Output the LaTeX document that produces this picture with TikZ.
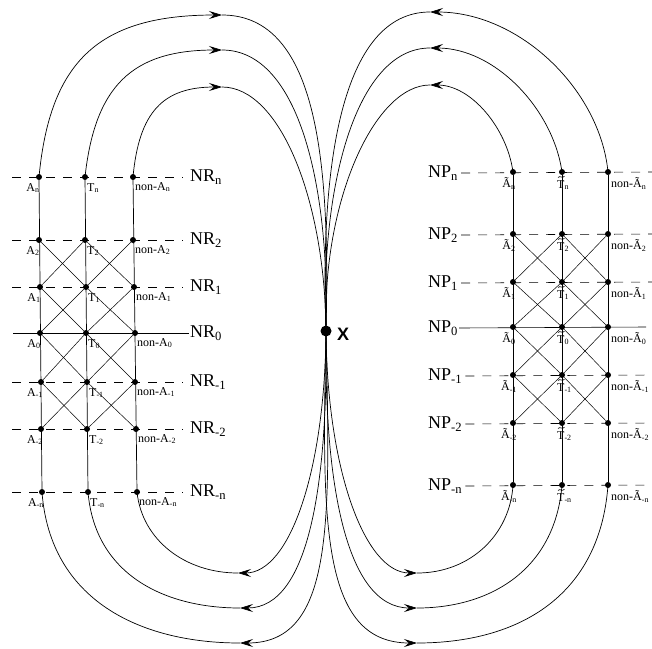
\documentclass[tikz,border=0pt]{standalone}
\usepackage{fontspec}
\setmainfont{Liberation Serif}
\setsansfont{Liberation Sans}
\usetikzlibrary{arrows.meta}
\begin{document}
\begin{tikzpicture}[x=1pt,y=-1pt,
  dot/.style={circle,fill=black,inner sep=0pt,minimum size=6pt},
  lbl/.style={inner sep=0pt,font=\fontsize{12}{12}\selectfont},
  rowlbl/.style={inner sep=0pt,font=\fontsize{18}{18}\selectfont},
  rowline/.style={line width=0.6pt,dash pattern=on 9pt off 8pt},
  zeroline/.style={line width=0.6pt},
  colline/.style={line width=0.7pt},
  diag/.style={line width=0.5pt},
  arcline/.style={line width=0.7pt},
  accent/.style={line width=0.6pt},
  tip/.style={-{Stealth[length=13pt,width=8pt,inset=5pt]}},
]
\fill[white] (0,0) rectangle (652,648);
\useasboundingbox (0,0) rectangle (652,648);

% ---------- left lattice ----------
\foreach \k/\y/\xa/\xt/\xn/\s in {n/177/39/85/133/n, 2/240/39/85/133/2, 1/287/40/86/134/1, 0/333/40/86/135/0, m1/382/41/87/135/-1, m2/429/41/87/136/-2, mn/492/42/88/137/-n}{
  \node[dot] (LA\k) at (\xa,\y) {};
  \node[dot] (LT\k) at (\xt,\y) {};
  \node[dot] (LN\k) at (\xn,\y) {};
  \node[rowlbl,anchor=west] (NR\k) at (190,\y) {NR\textsubscript{\s}};
  \node[lbl,anchor=north] (lA\k) at ({\xa-6},{\y+6}) {A\textsubscript{\s}};
  \node[lbl,anchor=north west] (lT\k) at ({\xt+2},{\y+6}) {T\textsubscript{\s}};
  \node[lbl,anchor=north west] (lN\k) at ({\xn+2},{\y+5}) {non-A\textsubscript{\s}};
}
\foreach \k/\y in {n/177, 2/240, 1/287, m1/382, m2/429, mn/492}{
  \draw[rowline] (12,\y) -- ([xshift=-7pt]NR\k.west);
}
\draw[zeroline] (13,333) -- ([xshift=-1pt]NR0.west);
\draw[colline] (LAn) -- (LAmn);
\draw[colline] (LTn) -- (LTmn);
\draw[colline] (LNn) -- (LNmn);
\foreach \u/\v in {2/1, 1/0, 0/m1, m1/m2}{
  \draw[diag] (LA\u) -- (LT\v);
  \draw[diag] (LT\u) -- (LA\v);
  \draw[diag] (LT\u) -- (LN\v);
  \draw[diag] (LN\u) -- (LT\v);
}

% ---------- right lattice ----------
\foreach \k/\y/\s in {n/172/n, 2/234/2, 1/282/1, 0/327/0, m1/375/-1, m2/423/-2, mn/485/-n}{
  \node[dot] (RA\k) at (513,\y) {};
  \node[dot] (RT\k) at (562,\y) {};
  \node[dot] (RN\k) at (608,\y) {};
  \node[rowlbl,anchor=west] (NP\k) at (428,{\y+1}) {NP\textsubscript{\s}};
  \node[lbl,anchor=north] (rA\k) at (509,{\y+5}) {Ã\textsubscript{\s}};
  \node[lbl,anchor=north west] (rT\k) at (557,{\y+8}) {T\textsubscript{\s}};
  \draw[accent] (558,{\y+5.5}) .. controls (559.8,{\y+3}) and (562.2,{\y+7}) .. (564.5,{\y+4.2});
  \node[lbl,anchor=north west] (rN\k) at (611,{\y+5}) {non-Ã\textsubscript{\s}};
}
\foreach \k/\y in {n/172, 2/234, 1/282, m1/375, m2/423, mn/485}{
  \draw[rowline] ([xshift=3pt]NP\k.east) -- (652,\y);
}
\draw[zeroline] ([xshift=1pt]NP0.east) -- (646,327);
\draw[colline] (RAn) -- (RAmn);
\draw[colline] (RTn) -- (RTmn);
\draw[colline] (RNn) -- (RNmn);
\foreach \u/\v in {2/1, 1/0, 0/m1, m1/m2}{
  \draw[diag] (RA\u) -- (RT\v);
  \draw[diag] (RT\u) -- (RA\v);
  \draw[diag] (RT\u) -- (RN\v);
  \draw[diag] (RN\u) -- (RT\v);
}

% ---------- centre ----------
\node[circle,fill=black,inner sep=0pt,minimum size=11pt] (X) at (326,331) {};
\node[inner sep=0pt,anchor=west,font=\sffamily\bfseries\fontsize{18}{18}\selectfont] (Xl) at (337,334) {X};

\coordinate (tL1) at (222,15);
\coordinate (tL2) at (222,50);
\coordinate (tL3) at (222,87);
\coordinate (tR1) at (430,12);
\coordinate (tR2) at (430,48);
\coordinate (tR3) at (430,85);
\coordinate (bL1) at (240,643);
\coordinate (bL2) at (240,608);
\coordinate (bL3) at (238,573);
\coordinate (bR1) at (417,643);
\coordinate (bR2) at (417,608);
\coordinate (bR3) at (417,573);

% top left
\draw[arcline,tip] (LAn.center) .. controls (50,61) and (99,15) .. (tL1);
\draw[arcline] (tL1) .. controls (320,15) and (330,170) .. (X.center);
\draw[arcline,tip] (LTn.center) .. controls (95,86) and (132,50) .. (tL2);
\draw[arcline] (tL2) .. controls (300,50) and (330,190) .. (X.center);
\draw[arcline,tip] (LNn.center) .. controls (139,112) and (163,87) .. (tL3);
\draw[arcline] (tL3) .. controls (280,87) and (325,200) .. (X.center);
% top right
\draw[arcline,tip] (RNn.center) .. controls (600,90) and (520,12) .. (tR1);
\draw[arcline] (tR1) .. controls (340,12) and (320,170) .. (X.center);
\draw[arcline,tip] (RTn.center) .. controls (553,109) and (495,48) .. (tR2);
\draw[arcline] (tR2) .. controls (355,48) and (320,190) .. (X.center);
\draw[arcline,tip] (RAn.center) .. controls (507,128) and (471,85) .. (tR3);
\draw[arcline] (tR3) .. controls (375,85) and (322,200) .. (X.center);
% bottom left
\draw[arcline,tip] (X.center) .. controls (330,520) and (335,643) .. (bL1);
\draw[arcline] (bL1) .. controls (140,643) and (50,600) .. (LAmn.center);
\draw[arcline,tip] (X.center) .. controls (328,480) and (310,608) .. (bL2);
\draw[arcline] (bL2) .. controls (165,608) and (95,575) .. (LTmn.center);
\draw[arcline,tip] (X.center) .. controls (325,470) and (290,573) .. (bL3);
\draw[arcline] (bL3) .. controls (185,573) and (142,540) .. (LNmn.center);
% bottom right
\draw[arcline,tip] (X.center) .. controls (322,520) and (320,643) .. (bR1);
\draw[arcline] (bR1) .. controls (520,643) and (600,595) .. (RNmn.center);
\draw[arcline,tip] (X.center) .. controls (324,480) and (345,608) .. (bR2);
\draw[arcline] (bR2) .. controls (490,608) and (555,570) .. (RTmn.center);
\draw[arcline,tip] (X.center) .. controls (327,470) and (365,573) .. (bR3);
\draw[arcline] (bR3) .. controls (470,573) and (510,535) .. (RAmn.center);
\end{tikzpicture}
\end{document}
